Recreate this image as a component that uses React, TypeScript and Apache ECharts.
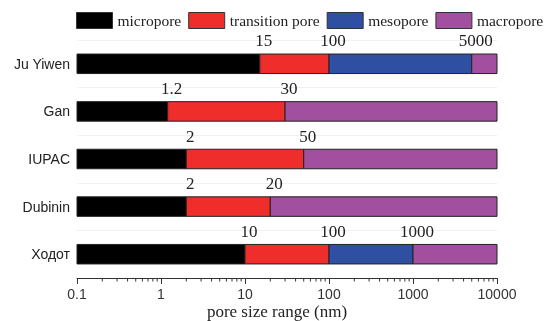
import React, { useEffect, useRef } from "react";
import * as echarts from "echarts";

// Classification schemes, listed top to bottom
const categories = ["Ju Yiwen", "Gan", "IUPAC", "Dubinin", "Ходот"];
// Upper bounds (nm) of each pore class per scheme; null = class not defined
const microporeUpper = [15, 1.2, 2, 2, 10];
const transitionUpper = [100, 30, 50, 20, 100];
const mesoporeUpper: (number | null)[] = [5000, null, null, null, 1000];

const axisMin = 0.1;
const axisMax = 10000;
const axisTitle = "pore size range (nm)";

const seriesNames = ["micropore", "transition pore", "mesopore", "macropore"];
const seriesColors = ["#000000", "#ef2d2a", "#2f4fa2", "#a24f9f"];

// minor tick positions on the log axis (2..9 × each decade)
const minorMultipliers = [2, 3, 4, 5, 6, 7, 8, 9];
const decades = [0.1, 1, 10, 100, 1000];

type Seg = [number, number, number, number];

function buildSegments(): Seg[][] {
  const micro: Seg[] = [];
  const trans: Seg[] = [];
  const meso: Seg[] = [];
  const macro: Seg[] = [];
  categories.forEach((_, i) => {
    micro.push([axisMin, microporeUpper[i], i, 1]);
    trans.push([microporeUpper[i], transitionUpper[i], i, 1]);
    const m = mesoporeUpper[i];
    if (m != null) {
      meso.push([transitionUpper[i], m, i, 1]);
      macro.push([m, axisMax, i, 0]);
    } else {
      macro.push([transitionUpper[i], axisMax, i, 0]);
    }
  });
  return [micro, trans, meso, macro];
}

export default function App() {
  const ref = useRef<HTMLDivElement>(null);

  useEffect(() => {
    if (!ref.current) return;
    const chart = echarts.init(ref.current, undefined, { renderer: "svg" });
    const segs = buildSegments();

    const renderSegment = (params: any, api: any) => {
      const cat = api.value(2);
      const s = api.coord([api.value(0), cat]);
      const e = api.coord([api.value(1), cat]);
      const band = params.coordSys.height / categories.length;
      const h = band * 0.41;
      const children: any[] = [
        {
          type: "rect",
          shape: { x: s[0], y: s[1] - h / 2, width: e[0] - s[0], height: h },
          style: { fill: api.visual("color"), stroke: "#222", lineWidth: 1 },
        },
      ];
      if (api.value(3) === 1) {
        children.push({
          type: "text",
          x: e[0] + 4,
          y: e[1] - 23,
          style: {
            text: String(api.value(1)),
            fill: "#222",
            font: "17px 'Liberation Serif', serif",
            align: "center",
            verticalAlign: "middle",
          },
        });
      }
      return { type: "group", children };
    };

    const option: any = {
      animation: false,
      color: seriesColors,
      grid: {
        left: 77,
        right: 47,
        top: 40,
        bottom: 43,
        outerBoundsMode: "none",
        containLabel: false,
      },
      legend: {
        data: seriesNames,
        left: 76,
        top: 12,
        icon: "rect",
        itemWidth: 36,
        itemHeight: 16,
        itemGap: 7,
        padding: 0,
        itemStyle: { borderColor: "#333", borderWidth: 1 },
        textStyle: {
          fontFamily: "'Liberation Serif', serif",
          fontSize: 15.5,
          color: "#222",
        },
      },
      xAxis: {
        type: "log",
        logBase: 10,
        min: axisMin,
        max: axisMax,
        name: axisTitle,
        nameLocation: "middle",
        nameGap: 25,
        nameMoveOverlap: false,
        nameTextStyle: {
          fontFamily: "'Liberation Serif', serif",
          fontSize: 17,
          color: "#222",
          padding: [0, 20, 0, 0],
        },
        axisLine: { show: true, lineStyle: { color: "#333", width: 1 } },
        axisTick: { show: true, length: 6, lineStyle: { color: "#333" } },
        axisLabel: {
          fontFamily: "'Liberation Sans', Arial, sans-serif",
          fontSize: 14,
          color: "#333",
          margin: 9,
          formatter: (v: number) => String(Number(v.toPrecision(6))),
        },
        splitLine: { show: false },
      },
      yAxis: {
        type: "category",
        data: categories,
        inverse: true,
        axisLine: { show: false },
        axisTick: { show: false },
        axisLabel: {
          fontFamily: "'Liberation Sans', Arial, sans-serif",
          fontSize: 14,
          color: "#222",
          margin: 7,
        },
        splitLine: { show: true, lineStyle: { color: "#f0f0f0", width: 1 } },
      },
      series: seriesNames.map((name, k) => ({
        type: "custom",
        name,
        data: segs[k],
        encode: { x: [0, 1], y: 2 },
        itemStyle: { color: seriesColors[k] },
        renderItem: renderSegment,
        clip: false,
        silent: true,
      })),
    };

    chart.setOption(option);

    // minor ticks placed through the x axis' log scale, below the axis line
    const yFirst = chart.convertToPixel({ yAxisIndex: 0 }, categories[0]) as number;
    const yLast = chart.convertToPixel(
      { yAxisIndex: 0 },
      categories[categories.length - 1]
    ) as number;
    const band = (yLast - yFirst) / (categories.length - 1);
    const axisY = Math.round(yLast + band / 2);
    const tickLines: any[] = [];
    decades.forEach((d) =>
      minorMultipliers.forEach((m) => {
        const x = chart.convertToPixel({ xAxisIndex: 0 }, d * m) as number;
        tickLines.push({
          type: "line",
          shape: { x1: x, y1: axisY, x2: x, y2: axisY + 3.5 },
          style: { stroke: "#333", lineWidth: 1 },
          silent: true,
        });
      })
    );
    chart.setOption({ graphic: { elements: tickLines } });

    return () => chart.dispose();
  }, []);

  return (
    <div
      ref={ref}
      style={{ position: "fixed", left: 0, top: 0, width: 544, height: 321 }}
    />
  );
}
